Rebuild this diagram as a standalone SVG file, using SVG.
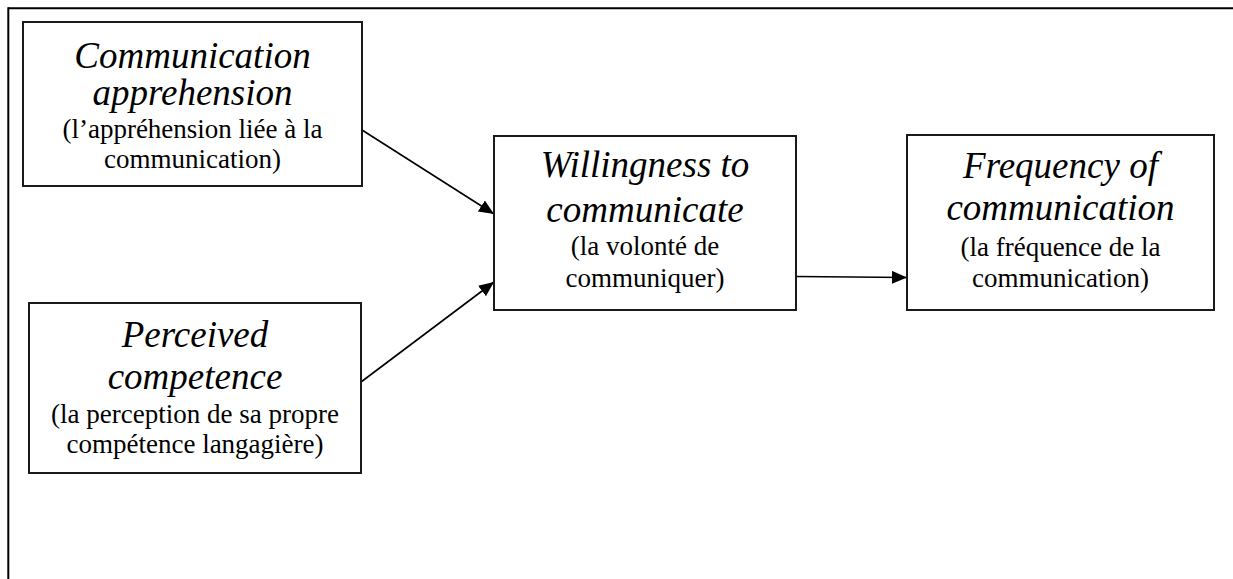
<svg xmlns="http://www.w3.org/2000/svg" width="1233" height="579" viewBox="0 0 1233 579">
  <style>
    .box { fill: #ffffff; stroke: #1a1a1a; stroke-width: 2; }
    .frame { stroke: #000000; stroke-width: 2; fill: none; }
    .title { font-family: "Liberation Serif", "Times New Roman", serif; font-style: italic; font-size: 37px; fill: #000; text-anchor: middle; }
    .sub { font-family: "Liberation Serif", "Times New Roman", serif; font-size: 27px; fill: #000; text-anchor: middle; }
    .conn { stroke: #000; stroke-width: 1.6; fill: none; marker-end: url(#arrow); }
  </style>
  <defs>
    <marker id="arrow" markerUnits="userSpaceOnUse" markerWidth="16" markerHeight="14" refX="15" refY="6.5" orient="auto">
      <path d="M0,0 L15,6.5 L0,13 Z" fill="#000"/>
    </marker>
  </defs>
  <rect width="1233" height="579" fill="#ffffff"/>
  <g id="frame">
    <line class="frame" x1="8.3" y1="8.3" x2="1233" y2="8.3"/>
    <line class="frame" x1="8.3" y1="7.3" x2="8.3" y2="579"/>
  </g>
  <g id="connectors">
    <line class="conn" x1="362" y1="130" x2="494" y2="214"/>
    <line class="conn" x1="361" y1="382" x2="494" y2="282"/>
    <line class="conn" x1="796" y1="276.5" x2="907" y2="277.5"/>
  </g>
  <g id="node-apprehension">
    <rect class="box" x="23" y="22" width="339" height="164"/>
    <text class="title" x="192.5" y="68">Communication</text>
    <text class="title" x="192.5" y="105">apprehension</text>
    <text class="sub" x="192.5" y="138">(l’appréhension liée à la</text>
    <text class="sub" x="192.5" y="168">communication)</text>
  </g>
  <g id="node-competence">
    <rect class="box" x="29" y="303" width="332" height="170"/>
    <text class="title" x="195" y="347">Perceived</text>
    <text class="title" x="195" y="389">competence</text>
    <text class="sub" x="195" y="423">(la perception de sa propre</text>
    <text class="sub" x="195" y="453">compétence langagière)</text>
  </g>
  <g id="node-willingness">
    <rect class="box" x="494" y="136" width="302" height="174"/>
    <text class="title" x="645" y="177">Willingness to</text>
    <text class="title" x="645" y="222">communicate</text>
    <text class="sub" x="645" y="255">(la volonté de</text>
    <text class="sub" x="645" y="287">communiquer)</text>
  </g>
  <g id="node-frequency">
    <rect class="box" x="907" y="135" width="307" height="175"/>
    <text class="title" x="1060.5" y="178">Frequency of</text>
    <text class="title" x="1060.5" y="220">communication</text>
    <text class="sub" x="1060.5" y="256">(la fréquence de la</text>
    <text class="sub" x="1060.5" y="287">communication)</text>
  </g>
</svg>
